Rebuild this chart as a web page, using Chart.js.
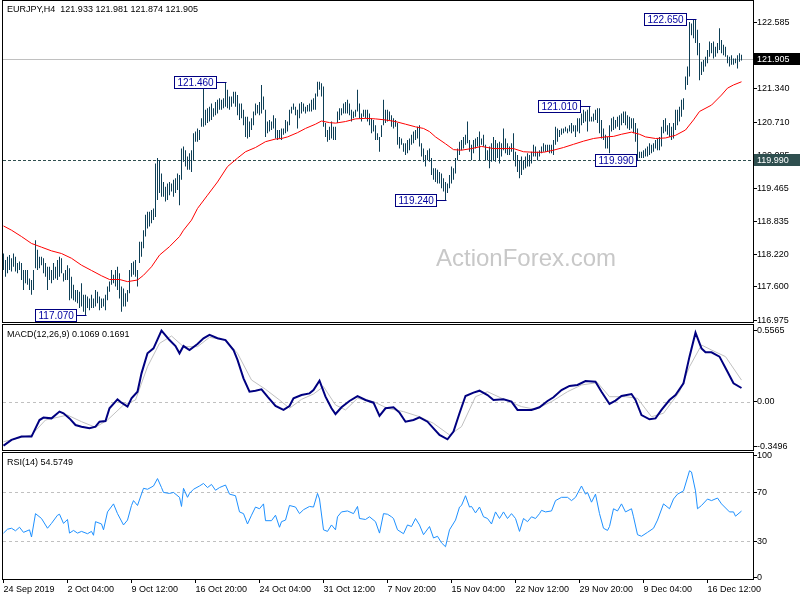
<!DOCTYPE html>
<html>
<head>
<meta charset="utf-8">
<script src="https://cdn.jsdelivr.net/npm/chart.js@4.4.0/dist/chart.umd.min.js"></script>
<style>
  html, body { margin: 0; padding: 0; background: #fff; }
  #wrap { position: relative; width: 800px; height: 600px; overflow: hidden; }
  canvas { position: absolute; left: 0; }
</style>
</head>
<body>
<div id="wrap">
  <canvas id="cPrice" width="800" height="326" style="top:0px"></canvas>
  <canvas id="cMacd" width="800" height="129" style="top:323px"></canvas>
  <canvas id="cRsi" width="800" height="149" style="top:451px"></canvas>
</div>
<script>
// ---- data ----
const symbolTitle = 'EURJPY,H4  121.933 121.981 121.874 121.905'
const macdTitle = 'MACD(12,26,9) 0.1069 0.1691'
const rsiTitle = 'RSI(14) 54.5749'
const lastPrice = 121.905
const supportLevel = 119.990

// bar highs / lows, one per H4 bar (370 bars)
const barHigh = [
 118.23,118.11,118.17,118.20,118.14,118.23,118.17,118.05,118.08,118.05,
 117.92,117.92,117.92,117.76,117.73,117.92,118.48,118.30,118.17,118.17,
 118.14,118.05,117.98,117.98,117.92,118.05,117.98,118.11,118.17,118.14,
 117.86,117.92,118.01,117.95,117.79,117.64,117.54,117.54,117.51,117.67,
 117.45,117.45,117.42,117.38,117.45,117.38,117.54,117.51,117.42,117.38,
 117.38,117.45,117.61,117.70,117.92,117.83,117.92,117.98,117.86,117.61,
 117.57,117.48,117.54,117.92,118.05,118.08,118.11,117.92,118.45,118.45,
 118.67,118.96,119.02,119.02,119.05,119.08,119.93,120.03,119.99,119.74,
 119.58,119.49,119.55,119.58,119.55,119.62,119.65,119.74,119.71,120.21,
 120.25,120.18,120.06,120.12,120.18,120.50,120.53,120.59,120.56,120.78,
 121.35,120.94,120.97,121.00,121.06,120.97,121.09,121.13,121.16,121.13,
 121.16,121.46,121.32,121.19,121.19,121.28,121.28,121.22,121.06,121.06,
 120.94,120.81,120.81,120.72,120.78,120.91,121.06,121.03,121.09,121.41,
 121.19,120.94,120.72,120.75,120.72,120.84,120.78,120.56,120.56,120.59,
 120.59,120.75,120.72,120.94,121.00,121.06,121.00,120.94,121.06,121.09,
 121.06,121.00,121.03,121.06,121.13,121.16,121.25,121.47,121.47,121.44,
 121.38,120.69,120.56,120.62,120.72,120.62,120.62,120.91,120.97,120.97,
 121.06,121.09,121.13,121.06,120.94,120.91,120.94,121.32,121.06,120.87,
 120.94,120.94,120.94,120.87,120.78,120.75,120.65,120.50,120.43,120.65,
 121.13,120.94,120.94,120.91,120.84,120.78,120.75,120.69,120.43,120.40,
 120.31,120.31,120.37,120.40,120.47,120.53,120.56,120.62,120.65,120.31,
 120.21,120.09,120.18,120.21,120.03,119.84,119.84,119.81,119.77,119.74,
 119.65,119.58,119.55,119.71,119.87,119.84,120.03,120.21,120.34,120.37,
 120.43,120.47,120.72,120.37,120.28,120.37,120.40,120.43,120.53,120.40,
 120.47,120.28,120.18,120.25,120.31,120.43,120.37,120.31,120.34,120.31,
 120.59,120.40,120.31,120.25,120.31,120.50,120.15,120.09,119.99,120.06,
 119.99,120.06,120.12,120.09,120.15,120.28,120.25,120.15,120.18,120.25,
 120.31,120.28,120.28,120.28,120.28,120.37,120.62,120.59,120.56,120.59,
 120.59,120.62,120.59,120.65,120.69,120.65,120.65,120.78,120.78,120.87,
 120.94,120.91,120.94,121.01,120.81,120.87,120.94,120.97,120.97,120.75,
 120.59,120.47,120.43,120.65,120.78,120.81,120.75,120.81,120.84,120.87,
 120.91,120.91,120.84,120.81,120.78,120.78,120.69,120.59,120.15,120.15,
 120.18,120.21,120.25,120.31,120.28,120.31,120.37,120.40,120.43,120.62,
 120.75,120.78,120.65,120.69,120.62,120.69,120.94,120.94,121.00,121.13,
 121.16,121.57,121.76,122.60,122.57,122.64,122.65,122.45,122.20,121.85,
 121.88,121.94,122.07,122.23,122.20,122.23,122.13,122.20,122.48,122.26,
 122.17,122.13,121.97,121.94,121.97,121.91,121.91,121.97,122.01,121.98
]
const barLow = [
 117.92,117.79,117.86,117.92,117.89,117.98,117.89,117.86,117.92,117.73,
 117.54,117.67,117.64,117.54,117.45,117.54,117.95,117.92,117.95,118.01,
 117.86,117.79,117.54,117.73,117.67,117.73,117.76,117.73,117.79,117.86,
 117.70,117.73,117.73,117.35,117.38,117.35,117.32,117.29,117.20,117.23,
 117.13,117.07,117.20,117.16,117.20,117.20,117.23,117.29,117.16,117.20,
 117.23,117.16,117.35,117.51,117.64,117.67,117.61,117.54,117.38,117.13,
 117.23,117.23,117.32,117.48,117.79,117.83,117.79,117.61,118.05,118.17,
 118.33,118.55,118.70,118.74,118.80,118.86,118.92,119.24,119.37,119.30,
 119.30,119.21,119.24,119.33,119.40,119.30,119.37,119.43,119.14,119.62,
 119.96,119.87,119.81,119.81,119.77,119.99,120.34,120.34,120.37,120.62,
 120.62,120.65,120.69,120.72,120.75,120.81,120.84,120.87,120.94,120.94,
 120.97,121.00,120.97,120.94,121.00,121.06,121.00,120.84,120.75,120.78,
 120.65,120.43,120.40,120.43,120.56,120.65,120.84,120.87,120.84,120.87,
 120.94,120.43,120.50,120.53,120.56,120.59,120.40,120.37,120.40,120.37,
 120.47,120.50,120.53,120.65,120.87,120.94,120.84,120.59,120.78,120.87,
 120.91,120.87,120.91,120.91,120.91,120.94,120.94,121.19,121.32,121.19,
 120.62,120.43,120.34,120.37,120.40,120.37,120.37,120.69,120.75,120.84,
 120.87,120.87,120.87,120.84,120.72,120.78,120.81,120.91,120.78,120.72,
 120.81,120.78,120.72,120.65,120.50,120.53,120.37,120.37,120.15,120.43,
 120.65,120.69,120.72,120.75,120.62,120.59,120.62,120.28,120.21,120.28,
 120.15,120.09,120.12,120.18,120.28,120.31,120.37,120.40,120.25,120.06,
 119.96,119.87,119.99,119.96,119.71,119.62,119.58,119.55,119.55,119.46,
 119.40,119.24,119.37,119.46,119.55,119.62,119.74,119.99,120.09,120.18,
 120.21,120.28,120.31,120.15,119.99,120.12,120.21,120.25,119.99,120.28,
 120.25,119.99,119.99,119.84,119.96,119.99,119.96,120.03,119.93,120.06,
 120.18,120.12,120.09,120.09,120.15,119.99,119.87,119.77,119.65,119.71,
 119.81,119.84,119.87,119.87,119.93,120.06,120.06,119.99,120.06,120.12,
 120.15,120.15,120.15,120.12,120.12,120.09,120.28,120.34,120.43,120.47,
 120.50,120.53,120.50,120.53,120.50,120.53,120.43,120.53,120.50,120.65,
 120.69,120.72,120.53,120.72,120.72,120.72,120.75,120.69,120.50,120.40,
 120.37,120.21,120.21,120.12,120.53,120.56,120.59,120.62,120.56,120.65,
 120.69,120.65,120.59,120.56,120.59,120.50,120.34,119.99,120.03,120.03,
 120.03,120.06,120.06,120.09,120.12,120.15,120.21,120.18,120.18,120.25,
 120.50,120.53,120.47,120.43,120.37,120.40,120.56,120.65,120.72,120.81,
 120.94,121.32,121.41,121.57,122.35,122.29,122.20,121.97,121.50,121.60,
 121.66,121.76,121.82,121.94,122.01,121.91,121.94,122.01,122.07,122.01,
 121.97,121.94,121.82,121.76,121.79,121.79,121.82,121.72,121.85,121.87
]

// red moving average, read at bar positions
const maIdx = [0,4,9,14,19,24,29,34,39,44,49,53,58,62,67,70,74,78,83,88,90,94,97,102,107,112,117,121,126,131,136,139,142,147,151,156,159,163,166,171,176,181,186,191,196,201,206,210,213,216,221,225,229,234,239,245,250,255,260,265,270,275,280,285,290,295,301,305,309,314,318,321,326,331,336,341,345,348,354,359,362,365,369]
const maVal = [118.75,118.67,118.55,118.42,118.35,118.28,118.23,118.14,118.01,117.91,117.81,117.74,117.74,117.70,117.73,117.82,117.98,118.20,118.36,118.55,118.67,118.86,119.08,119.33,119.58,119.87,120.03,120.15,120.23,120.34,120.39,120.40,120.43,120.51,120.59,120.67,120.73,120.70,120.69,120.72,120.77,120.78,120.77,120.75,120.72,120.67,120.62,120.59,120.53,120.43,120.30,120.19,120.18,120.21,120.25,120.21,120.21,120.21,120.15,120.14,120.14,120.18,120.23,120.29,120.35,120.40,120.43,120.44,120.48,120.52,120.48,120.43,120.40,120.41,120.46,120.56,120.75,120.91,121.03,121.22,121.35,121.41,121.47]

// MACD main line
const macdIdx = [0,4,9,14,18,20,24,28,30,33,36,39,43,46,48,51,53,57,59,62,64,67,69,72,75,79,83,86,88,90,93,97,100,103,107,111,115,117,120,123,126,129,132,136,140,143,145,149,153,155,158,161,164,166,169,173,177,181,185,188,191,195,198,201,205,208,212,215,218,222,225,228,231,235,238,242,245,250,254,257,264,268,272,275,279,283,287,291,296,299,303,306,309,314,316,319,323,326,329,333,336,340,343,346,349,351,354,358,362,365,369]
const macdVal = [-0.345,-0.300,-0.274,-0.274,-0.144,-0.125,-0.131,-0.078,-0.091,-0.131,-0.183,-0.196,-0.209,-0.196,-0.157,-0.152,-0.052,0.018,-0.008,-0.039,0.026,0.078,0.222,0.379,0.418,0.557,0.483,0.436,0.379,0.436,0.405,0.452,0.497,0.523,0.497,0.483,0.405,0.327,0.183,0.078,0.086,0.097,0.039,-0.034,-0.065,-0.034,0.026,0.052,0.065,0.091,0.165,0.039,-0.052,-0.097,-0.044,0.005,0.044,0.013,-0.008,-0.112,-0.052,-0.044,-0.086,-0.157,-0.144,-0.123,-0.157,-0.209,-0.261,-0.295,-0.235,-0.091,0.044,0.071,0.086,0.052,0.013,0.018,0.000,-0.065,-0.065,-0.044,0.005,0.034,0.091,0.123,0.131,0.162,0.157,0.078,-0.018,0.008,0.044,0.060,0.013,-0.105,-0.138,-0.131,-0.065,0.013,0.052,0.144,0.353,0.541,0.418,0.387,0.387,0.353,0.235,0.144,0.107]

// MACD signal line
const sigIdx = [0,14,21,32,39,46,52,60,66,72,78,84,90,97,103,111,117,124,131,138,143,149,155,160,166,171,177,185,192,200,208,215,223,229,236,242,251,259,266,274,282,289,297,303,311,317,324,330,338,343,349,354,361,369]
const sigVal = [-0.314,-0.261,-0.144,-0.105,-0.157,-0.201,-0.144,-0.026,0.013,0.274,0.457,0.515,0.431,0.431,0.504,0.483,0.379,0.170,0.097,0.013,-0.052,0.018,0.060,0.118,-0.026,-0.065,0.026,0.000,-0.052,-0.078,-0.118,-0.170,-0.261,-0.196,0.039,0.078,0.013,-0.039,-0.060,0.000,0.078,0.131,0.149,0.039,0.039,0.026,-0.118,-0.091,0.078,0.274,0.444,0.405,0.353,0.169]

// RSI(14)
const rsiIdx = [0,2,4,6,8,10,13,14,16,19,22,24,27,28,30,32,33,35,37,39,42,44,45,46,49,50,52,55,57,60,62,64,65,67,70,72,75,77,79,80,83,85,88,89,90,92,93,95,98,100,102,104,106,108,111,113,116,118,120,122,124,126,128,130,131,134,136,138,139,141,143,146,148,150,153,155,157,158,160,162,164,166,167,169,172,175,177,178,181,183,186,188,190,192,194,195,197,200,202,204,206,208,210,213,215,217,219,221,223,226,228,229,231,233,234,236,238,240,242,244,246,248,250,252,254,256,258,260,262,264,266,268,269,271,274,276,279,282,284,286,289,291,292,294,296,298,300,302,303,305,307,309,311,314,315,317,319,322,325,327,330,333,335,337,340,343,344,346,347,349,352,354,357,359,363,365,366,369]
const rsiVal = [36.5,39.7,40.5,38.4,41.3,37.1,39.2,33.3,52.5,48.5,40.5,44.5,51.2,52.0,44.5,47.7,36.5,38.7,36.5,37.9,36.0,37.9,34.7,45.9,44.0,39.2,53.9,60.5,52.5,43.2,47.2,59.2,63.2,59.2,73.3,72.5,75.2,81.3,73.9,69.9,69.1,69.9,65.9,58.4,73.3,65.9,69.1,72.5,75.2,77.3,73.9,76.5,71.7,73.9,76.0,68.5,67.2,53.9,52.5,44.0,51.2,57.9,56.5,60.5,46.7,46.7,51.2,41.3,45.9,47.2,59.2,57.9,52.5,55.7,58.4,57.9,69.1,64.5,39.2,37.9,43.2,39.2,49.9,53.9,54.7,52.5,58.4,48.5,47.7,49.9,45.9,36.5,52.5,52.0,49.9,48.5,39.2,36.0,43.2,41.9,48.5,43.2,35.2,41.9,32.5,33.9,28.5,25.3,39.2,47.2,57.9,59.2,67.2,57.9,58.4,53.1,57.9,49.9,48.5,44.0,53.9,48.5,53.9,48.5,52.5,48.5,37.9,48.5,45.9,49.9,48.5,52.5,55.2,53.9,54.7,63.2,65.9,65.9,63.2,65.9,75.2,68.5,69.9,61.9,68.5,52.5,40.5,38.7,41.9,56.5,54.7,60.5,53.9,56.5,49.9,35.2,33.9,37.1,40.5,47.2,60.5,56.5,64.5,68.5,71.2,87.7,86.7,71.2,56.5,59.2,64.5,63.2,65.3,60.5,53.9,53.9,50.4,54.6]

// axis tick labels
const priceTicks = [122.585, 121.340, 120.710, 120.085, 119.465, 118.835, 118.220, 117.600, 116.975]
const macdTicks = [0.5565, 0.0, -0.3496]
const rsiTicks = [100, 70, 30, 0]
const dateIdx = [0, 32, 64, 96, 128, 160, 192, 224, 256, 288, 320, 352]
const dateLbl = ['24 Sep 2019', '2 Oct 04:00', '9 Oct 12:00', '16 Oct 20:00', '24 Oct 04:00', '31 Oct 12:00',
  '7 Nov 20:00', '15 Nov 04:00', '22 Nov 12:00', '29 Nov 20:00', '9 Dec 04:00', '16 Dec 12:00']

// swing labels
const markIdx = [41, 111, 221, 293, 317, 346]
const markPrice = [117.070, 121.460, 119.240, 121.010, 119.990, 122.650]

// ---- look ----
const FONT = '"Liberation Sans", Arial, sans-serif'
const X_MIN = -0.25, X_MAX = 374.75
const BAR_COLOR = '#0e3f56'

Chart.defaults.font.family = FONT
Chart.defaults.font.size = 9
Chart.defaults.color = '#000'

let toXY = (idx, val) => idx.map((v, i) => ({ x: v, y: val[i] }))

let rightAxis = (min, max, ticks, fmt) => ({
  position: 'right', min: min, max: max,
  afterBuildTicks: (s) => { s.ticks = ticks.map(v => ({ value: v })) },
  afterFit: (s) => { s.width = 47; s.paddingTop = 0; s.paddingBottom = 0 },
  ticks: { callback: fmt, color: '#000', padding: 0, autoSkip: false, font: { family: FONT, size: 9 } },
  grid: { drawOnChartArea: false, drawTicks: true, tickLength: 4, color: '#000' },
  border: { display: false }
})

let hiddenX = () => ({ type: 'linear', display: false, min: X_MIN, max: X_MAX, offset: false })

let drawFrame = (chart) => {
  const a = chart.chartArea, ctx = chart.ctx
  ctx.save()
  ctx.strokeStyle = '#000'
  ctx.lineWidth = 1
  ctx.strokeRect(Math.round(a.left) - 0.5, Math.round(a.top) - 0.5, Math.round(a.right - a.left) + 1, Math.round(a.bottom - a.top) + 1)
  ctx.restore()
}

let levelLine = (chart, v, color, dash) => {
  const a = chart.chartArea, ctx = chart.ctx
  const y = Math.round(chart.scales.y.getPixelForValue(v)) + 0.5
  ctx.save()
  ctx.strokeStyle = color
  ctx.lineWidth = 1
  ctx.setLineDash(dash)
  ctx.beginPath()
  ctx.moveTo(a.left, y)
  ctx.lineTo(a.right, y)
  ctx.stroke()
  ctx.restore()
}

let paneText = (chart, txt, y) => {
  const ctx = chart.ctx
  ctx.save()
  ctx.font = '9px ' + FONT
  ctx.fillStyle = '#000'
  ctx.textBaseline = 'middle'
  ctx.fillText(txt, 7, y)
  ctx.restore()
}

// ---- price pane ----
const pricePlugin = {
  id: 'pricePane',
  beforeDatasetsDraw(chart) {
    const ctx = chart.ctx
    ctx.save()
    ctx.font = '24px ' + FONT
    ctx.fillStyle = '#c8c8c8'
    ctx.textAlign = 'center'
    ctx.textBaseline = 'middle'
    ctx.fillText('ActionForex.com', 526, 259)
    ctx.restore()
    levelLine(chart, lastPrice, '#c0c0c0', [])
    levelLine(chart, supportLevel, '#2f4f4f', [3, 2])
  },
  afterDatasetsDraw(chart) {
    const ctx = chart.ctx, xs = chart.scales.x, ys = chart.scales.y
    const gapFor = { 317: 2 }
    ctx.save()
    ctx.font = '10px ' + FONT
    ctx.textBaseline = 'middle'
    markIdx.forEach((idx, k) => {
      const txt = markPrice[k].toFixed(3)
      const bx = Math.round(xs.getPixelForValue(idx)) + 0.5
      const by = Math.round(ys.getPixelForValue(markPrice[k])) + 0.5
      const w = Math.round(ctx.measureText(txt).width) + 6
      const gap = gapFor[idx] !== undefined ? gapFor[idx] : 10
      const right = bx - gap
      const left = right - w
      ctx.fillStyle = '#fff'
      ctx.fillRect(left, by - 6, w, 12)
      ctx.strokeStyle = '#000080'
      ctx.lineWidth = 1
      ctx.strokeRect(left, by - 6, w, 12)
      ctx.beginPath()
      ctx.moveTo(right, by)
      ctx.lineTo(bx, by)
      ctx.stroke()
      ctx.fillStyle = '#0000a0'
      ctx.fillText(txt, left + 3, by + 0.5)
    })
    ctx.restore()
  },
  afterDraw(chart) {
    drawFrame(chart)
    paneText(chart, symbolTitle, 10)
    const ctx = chart.ctx, ys = chart.scales.y, a = chart.chartArea
    const tag = (v, bg) => {
      const y = Math.round(ys.getPixelForValue(v))
      ctx.fillStyle = bg
      ctx.fillRect(a.right + 1, y - 6, 800 - a.right, 12)
      ctx.fillStyle = '#fff'
      ctx.textBaseline = 'middle'
      ctx.font = '9px ' + FONT
      ctx.fillText(v.toFixed(3), a.right + 4, y + 0.5)
    }
    ctx.save()
    tag(lastPrice, '#000')
    tag(supportLevel, '#2f4f4f')
    ctx.restore()
  }
}

new Chart(document.getElementById('cPrice'), {
  type: 'bar',
  data: {
    datasets: [
      {
        type: 'line', data: toXY(maIdx, maVal), borderColor: '#ff0000', borderWidth: 1,
        pointRadius: 0, tension: 0, order: 0
      },
      {
        type: 'bar', data: barHigh.map((h, i) => ({ x: i, y: [barLow[i], h] })),
        backgroundColor: BAR_COLOR, borderWidth: 0, barThickness: 1, inflateAmount: 0, order: 1
      }
    ]
  },
  options: {
    responsive: false, animation: false, devicePixelRatio: 1,
    layout: { padding: { left: 3, top: 1, right: 0, bottom: 4 } },
    plugins: { legend: { display: false }, tooltip: { enabled: false } },
    scales: {
      x: hiddenX(),
      y: rightAxis(116.938, 122.994, priceTicks, v => v.toFixed(3))
    }
  },
  plugins: [pricePlugin]
})

// ---- MACD pane ----
new Chart(document.getElementById('cMacd'), {
  type: 'line',
  data: {
    datasets: [
      { data: toXY(macdIdx, macdVal), borderColor: '#000080', borderWidth: 2, pointRadius: 0, tension: 0 },
      { data: toXY(sigIdx, sigVal), borderColor: '#c0c0c0', borderWidth: 1, pointRadius: 0, tension: 0 }
    ]
  },
  options: {
    responsive: false, animation: false, devicePixelRatio: 1,
    layout: { padding: { left: 3, top: 2, right: 0, bottom: 2 } },
    plugins: { legend: { display: false }, tooltip: { enabled: false } },
    scales: {
      x: hiddenX(),
      y: rightAxis(-0.379, 0.601, macdTicks, v => v === 0 ? '0.00' : v.toFixed(4))
    }
  },
  plugins: [{
    id: 'macdPane',
    beforeDatasetsDraw(chart) { levelLine(chart, 0, '#c0c0c0', [3, 3]) },
    afterDraw(chart) { drawFrame(chart); paneText(chart, macdTitle, 12) }
  }]
})

// ---- RSI pane ----
new Chart(document.getElementById('cRsi'), {
  type: 'line',
  data: {
    datasets: [
      { data: toXY(rsiIdx, rsiVal), borderColor: '#1e90ff', borderWidth: 1, pointRadius: 0, tension: 0 }
    ]
  },
  options: {
    responsive: false, animation: false, devicePixelRatio: 1,
    layout: { padding: { left: 3, top: 2, right: 0, bottom: 0 } },
    plugins: { legend: { display: false }, tooltip: { enabled: false } },
    scales: {
      x: {
        type: 'linear', min: X_MIN, max: X_MAX, offset: false,
        afterBuildTicks: (s) => { s.ticks = dateIdx.map(v => ({ value: v })) },
        afterFit: (s) => { s.height = 21; s.paddingLeft = 0; s.paddingRight = 0 },
        ticks: {
          callback: (v) => dateLbl[dateIdx.indexOf(v)], align: 'start', maxRotation: 0, minRotation: 0,
          autoSkip: false, padding: 1, color: '#000', font: { family: FONT, size: 9 }
        },
        grid: { drawOnChartArea: false, drawTicks: true, tickLength: 4, color: '#000' },
        border: { display: false }
      },
      y: rightAxis(-1.2, 102.3, rsiTicks, v => String(v))
    }
  },
  plugins: [{
    id: 'rsiPane',
    beforeDatasetsDraw(chart) {
      levelLine(chart, 70, '#c0c0c0', [3, 3])
      levelLine(chart, 30, '#c0c0c0', [3, 3])
    },
    afterDraw(chart) { drawFrame(chart); paneText(chart, rsiTitle, 12) }
  }]
})
</script>
</body>
</html>
